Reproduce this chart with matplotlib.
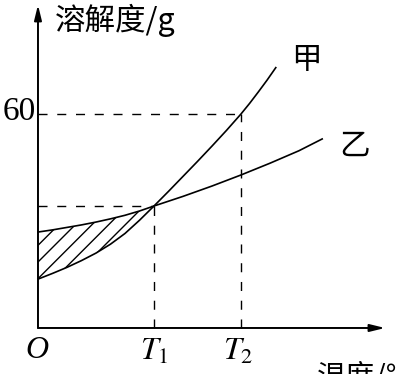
import matplotlib
matplotlib.use('Agg')
import matplotlib.pyplot as plt
import numpy as np

plt.rcParams['font.family'] = ['Noto Sans CJK SC', 'DejaVu Sans']
plt.rcParams['mathtext.fontset'] = 'stix'
plt.rcParams['hatch.linewidth'] = 1.0

# values (temperature, solubility in g)
T1 = 40
T2 = 70
s_cross = 34.2
s_jia_T2 = 60

t_jia = [0, 5, 10, 15, 20, 25, 30, 35, 40, 45, 50, 55, 60, 65, 70, 73, 76, 79, 82]
s_jia = [13.7, 15.3, 17.0, 18.9, 21.0, 23.5, 26.5, 30.2, 34.2, 38.3, 42.5,
         46.7, 51.0, 55.4, 60.0, 63.0, 66.2, 69.5, 73.0]

t_yi = [0, 5, 10, 15, 20, 25, 30, 35, 40, 50, 60, 70, 80, 90, 98]
s_yi = [26.9, 27.5, 28.2, 28.9, 29.7, 30.6, 31.6, 32.8, 34.2, 36.9, 39.8,
        42.9, 46.2, 49.7, 53.0]

fig = plt.figure(figsize=(3.97, 3.74), dpi=100)
ax = fig.add_axes([0, 0, 1, 1])
ax.set_xlim(-13.1, 123.8)
ax.set_ylim(-12.9, 91.96)
ax.axis('off')

# axes with arrows
arrow = dict(arrowstyle='-|>,head_length=0.9,head_width=0.22', lw=1.4,
             color='black', shrinkA=0, shrinkB=0)
ax.annotate('', xy=(0, 90.6), xytext=(0, 0), arrowprops=arrow)
ax.annotate('', xy=(119.7, 0), xytext=(0, 0), arrowprops=arrow)

# curves
ax.plot(t_jia, s_jia, color='black', lw=1.2)
ax.plot(t_yi, s_yi, color='black', lw=1.2)

# hatched area between the curves below T1
n = t_jia.index(T1) + 1
ax.fill_between(t_jia[:n], s_jia[:n], s_yi[:n], facecolor='none',
                edgecolor='black', hatch='//', lw=0)

# guide lines
dash = (0, (6.5, 7.0))
ax.plot([0, T2], [s_jia_T2, s_jia_T2], color='black', lw=1.0, ls=dash)
ax.plot([T2, T2], [0, s_jia_T2], color='black', lw=1.0, ls=dash)
ax.plot([0, T1], [s_cross, s_cross], color='black', lw=1.0, ls=dash)
ax.plot([T1, T1], [0, s_cross], color='black', lw=1.0, ls=dash)

# labels
ax.text(5.9, 86.3, '溶解度/g', fontsize=22, ha='left', va='center')
ax.text(-0.7, 60.5, '60', fontsize=24, family='Liberation Serif',
        ha='right', va='center')
ax.text(-0.3, -6.4, 'O', fontsize=23, family='Liberation Serif',
        style='italic', ha='center', va='center')
ax.text(T1, -6.4, '$T_1$', fontsize=23, ha='center', va='center')
ax.text(T2 - 1, -6.4, '$T_2$', fontsize=23, ha='center', va='center')
ax.text(92.4, 74.9, '甲', fontsize=22, ha='center', va='center')
ax.text(109, 51.0, '乙', fontsize=22, ha='center', va='center')
ax.text(96.2, -9.8, '温度/℃', fontsize=21, ha='left', va='top')

fig.savefig('out.png', dpi=100)
